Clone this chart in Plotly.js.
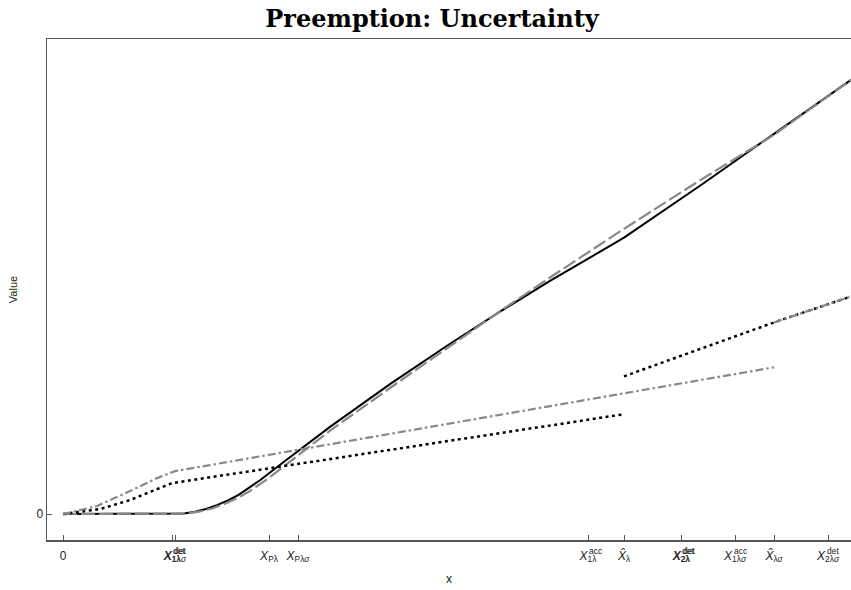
<!DOCTYPE html>
<html>
<head>
<meta charset="utf-8">
<script src="https://cdn.plot.ly/plotly-3.0.1.min.js"></script>
<style>html,body{margin:0;padding:0;background:#fff;}#chart{width:851px;height:590px;}</style>
</head>
<body>
<div id="chart"></div>
<script>
// ---- data ----
const valueLambdaX = [0, 1.09, 1.21, 1.32, 1.43, 1.54, 1.65, 1.76, 1.87, 1.97, 2.20, 2.54, 2.67, 3.27, 3.84, 4.37, 4.87, 5.61, 6.37, 7.11, 7.88];
const valueLambdaY = [0, 0, 0.006, 0.023, 0.051, 0.089, 0.137, 0.195, 0.266, 0.339, 0.516, 0.775, 0.874, 1.302, 1.686, 2.028, 2.336, 2.769, 3.29, 3.81, 4.35];

const valueSigmaX = [0, 1.12, 1.24, 1.37, 1.49, 1.62, 1.74, 1.87, 2.07, 2.20, 2.54, 2.67, 3.27, 3.84, 4.37, 4.87, 5.61, 6.37, 7.11, 7.88];
const valueSigmaY = [0, 0, 0.006, 0.026, 0.056, 0.103, 0.158, 0.231, 0.37, 0.471, 0.736, 0.835, 1.263, 1.665, 2.032, 2.37, 2.858, 3.344, 3.80, 4.35];

const followLambdaX = [0, 0.37, 0.67, 0.87, 1.09, 5.61, 5.61, 5.61, 7.11, 7.88];
const followLambdaY = [0, 0.05, 0.14, 0.22, 0.31, 1.00, null, 1.38, 1.92, 2.18];

const followSigmaX = [0, 0.34, 0.67, 0.94, 1.12, 7.11, 7.11, 7.11, 7.88];
const followSigmaY = [0, 0.08, 0.23, 0.36, 0.43, 1.47, null, 1.92, 2.18];

const tickVals = [0, 1.09, 1.12, 2.06, 2.35, 5.25, 5.61, 6.18, 6.185, 6.72, 7.11, 7.65];
const tickMain = ["0", "X", "X", "X", "X", "X", "X\u0302", "X", "X", "X", "X\u0302", "X"];
const tickSub  = ["", "1λ", "1λ<i>σ</i>", "Pλ", "Pλ<i>σ</i>", "1λ", "λ", "2λ", "2λ", "1λ<i>σ</i>", "λ<i>σ</i>", "2λ<i>σ</i>"];
const tickSubPlain = ["", "1λ", "1λσ", "Pλ", "Pλσ", "1λ", "λ", "2λ", "2λ", "1λσ", "λσ", "2λσ"];
const tickSup  = ["", "det", "det", "", "", "acc", "", "det", "det", "acc", "", "det"];

// ---- build ----
const tickFont = 'Liberation Sans, Arial, sans-serif';
const tickSize = 12;
const tickText = tickMain.map((m, i) => i === 0 ? m : '<i>' + m + '</i>' + (tickSub[i] ? '<sub>' + tickSub[i] + '</sub>' : ''));

const cvs = document.createElement('canvas').getContext('2d');
function w(txt, size, italic) {
  cvs.font = (italic ? 'italic ' : '') + size + 'px "Liberation Sans"';
  return cvs.measureText(txt).width;
}
const annotations = [];
tickVals.forEach((v, i) => {
  if (!tickSup[i]) return;
  const wx = w('X', tickSize, true);
  const ws = w(tickSubPlain[i], tickSize * 0.7, false);
  const W = wx + ws;
  annotations.push({
    x: v, xref: 'x', y: 0, yref: 'paper',
    xanchor: 'left', yanchor: 'middle',
    xshift: -W / 2 + wx - 0.5, yshift: -10.5,
    text: tickSup[i], showarrow: false,
    font: {family: tickFont, size: 8.5, color: '#222'}
  });
});

const traces = [
  {x: valueLambdaX, y: valueLambdaY, mode: 'lines', line: {color: '#000', width: 2}, hoverinfo: 'skip'},
  {x: valueSigmaX, y: valueSigmaY, mode: 'lines', line: {color: '#888', width: 2.2, dash: '14px,4px'}, hoverinfo: 'skip'},
  {x: followLambdaX, y: followLambdaY, mode: 'lines', connectgaps: false, line: {color: '#000', width: 2.5, dash: '3px,3.5px'}, hoverinfo: 'skip'},
  {x: followSigmaX, y: followSigmaY, mode: 'lines', connectgaps: false, line: {color: '#888', width: 2.2, dash: '8px,3px,2.5px,3px'}, hoverinfo: 'skip'}
];

const layout = {
  width: 851, height: 590,
  margin: {l: 47, r: 0, t: 39, b: 50},
  paper_bgcolor: '#fff', plot_bgcolor: '#fff',
  showlegend: false,
  title: {
    text: '<b>Preemption: Uncertainty</b>',
    font: {family: 'DejaVu Serif, serif', size: 24, color: '#000'},
    x: 0.5076, xanchor: 'center', xref: 'container',
    y: 1 - 19 / 590, yanchor: 'middle', yref: 'container'
  },
  xaxis: {
    range: [-0.16, 7.88], showgrid: false, zeroline: false,
    showline: true, linecolor: '#555', linewidth: 1.5, mirror: true,
    ticks: 'inside', ticklen: 5, tickcolor: '#555', tickwidth: 1,
    tickmode: 'array', tickvals: tickVals, ticktext: tickText, tickangle: 0,
    ticklabelstandoff: 4,
    tickfont: {family: tickFont, size: tickSize, color: '#222'},
    title: {text: 'x', font: {family: tickFont, size: 12, color: '#222'}, standoff: 11}
  },
  yaxis: {
    range: [-0.26, 4.76], showgrid: false, zeroline: false,
    showline: true, linecolor: '#555', linewidth: 1.5,
    ticks: 'inside', ticklen: 5, tickcolor: '#555', tickwidth: 1,
    tickmode: 'array', tickvals: [0], ticktext: ['0'],
    tickfont: {family: tickFont, size: tickSize, color: '#222'},
    title: {text: 'Value', font: {family: tickFont, size: 11, color: '#222'}, standoff: 16}
  },
  annotations: annotations
};

Plotly.newPlot('chart', traces, layout, {staticPlot: true, displayModeBar: false});
</script>
</body>
</html>
